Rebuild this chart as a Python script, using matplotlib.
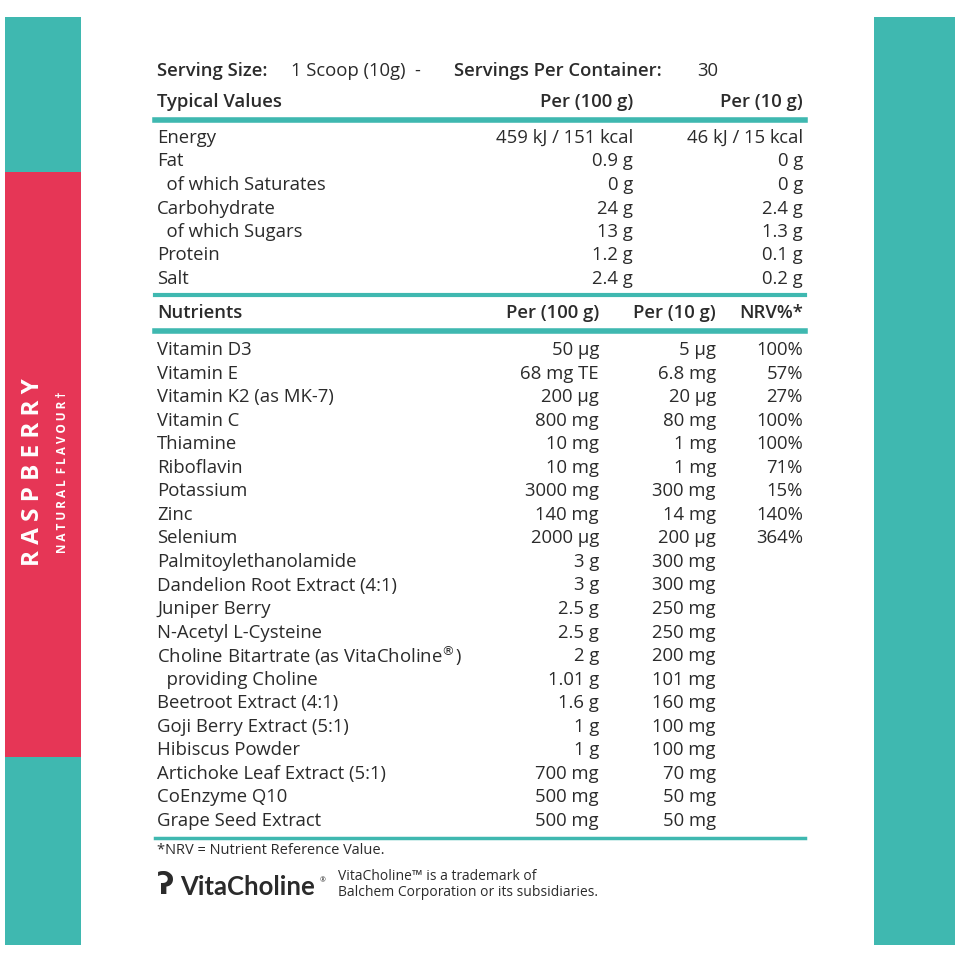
import matplotlib

matplotlib.use("Agg")
import matplotlib.pyplot as plt
from matplotlib.patches import Rectangle

TEAL = "#3fb8b0"
RED = "#e63656"
INK = "#2b2b2b"
FONT = "Open Sans"

# typical values table
typical_labels = ["Energy", "Fat", "  of which Saturates", "Carbohydrate",
                  "  of which Sugars", "Protein", "Salt"]
typical_per100 = ["459 kJ / 151 kcal", "0.9 g", "0 g", "24 g", "13 g", "1.2 g", "2.4 g"]
typical_per10 = ["46 kJ / 15 kcal", "0 g", "0 g", "2.4 g", "1.3 g", "0.1 g", "0.2 g"]

# nutrients table
nutrient_labels = ["Vitamin D3", "Vitamin E", "Vitamin K2 (as MK-7)", "Vitamin C",
                   "Thiamine", "Riboflavin", "Potassium", "Zinc", "Selenium",
                   "Palmitoylethanolamide", "Dandelion Root Extract (4:1)",
                   "Juniper Berry", "N-Acetyl L-Cysteine",
                   "Choline Bitartrate (as VitaCholine$^{®}$)", "  providing Choline",
                   "Beetroot Extract (4:1)", "Goji Berry Extract (5:1)",
                   "Hibiscus Powder", "Artichoke Leaf Extract (5:1)",
                   "CoEnzyme Q10", "Grape Seed Extract"]
nutrient_per100 = ["50 µg", "68 mg TE", "200 µg", "800 mg", "10 mg", "10 mg",
                   "3000 mg", "140 mg", "2000 µg", "3 g", "3 g", "2.5 g", "2.5 g",
                   "2 g", "1.01 g", "1.6 g", "1 g", "1 g", "700 mg", "500 mg", "500 mg"]
nutrient_per10 = ["5 µg", "6.8 mg", "20 µg", "80 mg", "1 mg", "1 mg", "300 mg",
                  "14 mg", "200 µg", "300 mg", "300 mg", "250 mg", "250 mg",
                  "200 mg", "101 mg", "160 mg", "100 mg", "100 mg", "70 mg",
                  "50 mg", "50 mg"]
nutrient_nrv = ["100%", "57%", "27%", "100%", "100%", "71%", "15%", "140%", "364%"]

fig = plt.figure(figsize=(9.6, 9.6), dpi=100)
ax = fig.add_axes([0, 0, 1, 1])
ax.set_xlim(0, 960)
ax.set_ylim(960, 0)
ax.axis("off")

# side strips
ax.add_patch(Rectangle((5, 17), 76, 928, color=TEAL, lw=0))
ax.add_patch(Rectangle((5, 172), 76, 585, color=RED, lw=0))
ax.add_patch(Rectangle((874, 17), 81, 928, color=TEAL, lw=0))
ax.text(33, 472, "R A S P B E R R Y", rotation=90, color="white", fontsize=17.5,
        fontweight="bold", family=FONT, ha="center", va="center")
ax.text(63, 472, "N A T U R A L  F L A V O U R †", rotation=90, color="white",
        fontsize=8.5, fontweight="bold", family=FONT, ha="center", va="center")

fs = 13.3
kw = dict(color=INK, family=FONT, fontsize=fs, va="center")
bold = dict(kw, fontweight="semibold")

ax.text(157, 71, "Serving Size:", **bold)
ax.text(291, 71, "1 Scoop (10g)  -", **kw)
ax.text(454, 71, "Servings Per Container:", **bold)
ax.text(697, 71, "30", **kw)

ax.text(157, 102, "Typical Values", **bold)
ax.text(633, 102, "Per (100 g)", ha="right", **bold)
ax.text(803, 102, "Per (10 g)", ha="right", **bold)
ax.plot([155, 805], [120, 120], color=TEAL, lw=4)
for i, (lab, a, b) in enumerate(zip(typical_labels, typical_per100, typical_per10)):
    y = 138 + i * 23.5
    ax.text(157, y, lab, **kw)
    ax.text(633, y, a, ha="right", **kw)
    ax.text(803, y, b, ha="right", **kw)
ax.plot([155, 805], [295, 295], color=TEAL, lw=3)

ax.text(157, 313, "Nutrients", **bold)
ax.text(599, 313, "Per (100 g)", ha="right", **bold)
ax.text(716, 313, "Per (10 g)", ha="right", **bold)
ax.text(803, 313, "NRV%*", ha="right", **bold)
ax.plot([155, 805], [331, 331], color=TEAL, lw=4)
for i, (lab, a, b) in enumerate(zip(nutrient_labels, nutrient_per100, nutrient_per10)):
    y = 350 + i * 23.55
    ax.text(157, y, lab, **kw)
    ax.text(599, y, a, ha="right", **kw)
    ax.text(716, y, b, ha="right", **kw)
    if i < len(nutrient_nrv):
        ax.text(803, y, nutrient_nrv[i], ha="right", **kw)
ax.plot([155, 805], [838, 838], color=TEAL, lw=2.5)

ax.text(157, 851, "*NRV = Nutrient Reference Value.", color=INK, family=FONT,
        fontsize=10.5, va="center")
ax.text(157, 886, "ʔ", color=INK, family="DejaVu Sans", fontsize=22,
        fontweight="bold", va="center")
ax.text(180, 887, "VitaCholine", color=INK, family="Lato", fontsize=18.5,
        fontweight="bold", va="center")
ax.text(320, 881, "®", color=INK, family=FONT, fontsize=5, va="center")
ax.text(338, 876, "VitaCholine™ is a trademark of", color=INK, family=FONT,
        fontsize=10, va="center")
ax.text(338, 892, "Balchem Corporation or its subsidiaries.", color=INK,
        family=FONT, fontsize=10, va="center")

fig.savefig("out.png", dpi=100, facecolor="white")
